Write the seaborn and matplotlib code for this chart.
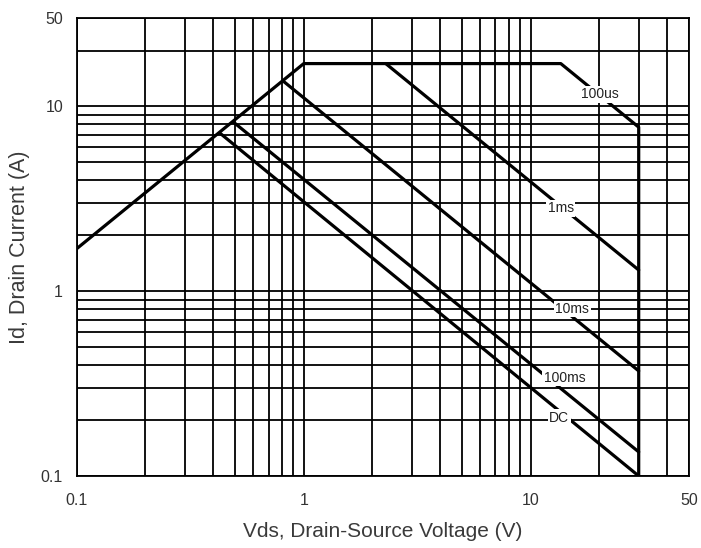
import numpy as np
import pandas as pd
import seaborn as sns
import matplotlib
matplotlib.use("Agg")
import matplotlib.pyplot as plt
from matplotlib.ticker import FixedLocator, NullFormatter

# -----------------------------
# Data
# -----------------------------
# outer envelope: Rds(on) limit, current limit, 100us pulse, Vds max
env_vds = [0.1, 1.0, 13.6, 30.0, 30.0]
env_id = [1.7, 17.0, 17.0, 7.7, 0.1]

ms1_vds = [2.3, 30.0]
ms1_id = [17.0, 1.3]

ms10_vds = [0.81, 30.0]
ms10_id = [13.7, 0.37]

ms100_vds = [0.49, 30.0]
ms100_id = [8.2, 0.135]

dc_vds = [0.43, 30.0]
dc_id = [7.1, 0.1]

curve_names = ["100us", "1ms", "10ms", "100ms", "DC"]
label_vds = [20.3, 13.6, 15.3, 14.1, 13.4]
label_id = [11.6, 2.8, 0.80, 0.34, 0.207]

x_ticks = [0.1, 1, 10, 50]
x_ticklabels = ["0.1", "1", "10", "50"]
y_ticks = [0.1, 1, 10, 30]
y_ticklabels = ["0.1", "1", "10", "50"]

curves = {
    "100us": (env_vds, env_id),
    "1ms": (ms1_vds, ms1_id),
    "10ms": (ms10_vds, ms10_id),
    "100ms": (ms100_vds, ms100_id),
    "DC": (dc_vds, dc_id),
}

rows = []
for name, (vx, vy) in curves.items():
    for i, (a, b) in enumerate(zip(vx, vy)):
        rows.append({"curve": name, "order": i, "Vds": a, "Id": b})
df = pd.DataFrame(rows)

# -----------------------------
# Plot
# -----------------------------
sns.set_style("white")
plt.rcParams["font.family"] = ["Liberation Sans", "DejaVu Sans"]

fig = plt.figure(figsize=(7.01, 5.48), dpi=100)
ax = fig.add_axes([0.1098, 0.1314, 0.8731, 0.8358])

for name in curve_names:
    sub = df[df["curve"] == name]
    sns.lineplot(data=sub, x="Vds", y="Id", sort=False, estimator=None,
                 color="black", linewidth=2.3, ax=ax, zorder=3)

ax.set_xscale("log")
ax.set_yscale("log")
ax.set_xlim(0.1, 50)
ax.set_ylim(0.1, 30)

# grid: every 1..9 per decade
x_minor = [m * d for d in (0.1, 1, 10) for m in range(2, 10) if m * d < 50]
y_minor = [m * d for d in (0.1, 1, 10) for m in range(2, 10) if m * d < 30]
ax.xaxis.set_major_locator(FixedLocator(x_ticks))
ax.yaxis.set_major_locator(FixedLocator(y_ticks))
ax.xaxis.set_minor_locator(FixedLocator(x_minor))
ax.yaxis.set_minor_locator(FixedLocator(y_minor))
ax.xaxis.set_minor_formatter(NullFormatter())
ax.yaxis.set_minor_formatter(NullFormatter())
ax.set_xticklabels(x_ticklabels)
ax.set_yticklabels(y_ticklabels)
ax.grid(True, which="both", color="black", linewidth=1.3)
ax.set_axisbelow(True)
ax.tick_params(which="both", length=0)
ax.tick_params(axis="x", pad=12, labelsize=11.5, labelcolor="#333333")
ax.tick_params(axis="y", pad=10, labelsize=11.5, labelcolor="#333333")

for s in ax.spines.values():
    s.set_color("black")
    s.set_linewidth(1.3)

ax.set_xlabel("Vds, Drain-Source Voltage (V)", fontsize=15, color="#3a3a3a", labelpad=10)
ax.set_ylabel("Id, Drain Current (A)", fontsize=15.5, color="#3a3a3a", labelpad=8)

# curve labels sit in a gap of their line
for name, lx, ly in zip(curve_names, label_vds, label_id):
    ax.text(lx, ly, name, fontsize=10, ha="center", va="center", color="#222222",
            zorder=4, bbox=dict(facecolor="white", edgecolor="none", pad=1.0))

fig.savefig("out.png", dpi=100)
